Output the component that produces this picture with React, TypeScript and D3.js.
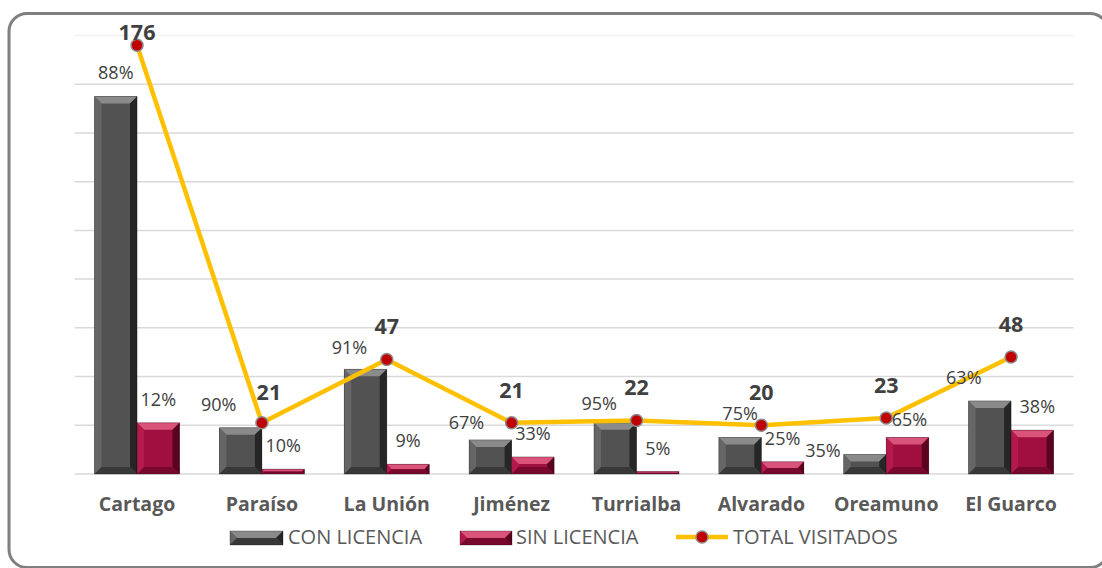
import React from "react";
import * as d3 from "d3";

const categories = ["Cartago", "Paraíso", "La Unión", "Jiménez", "Turrialba", "Alvarado", "Oreamuno", "El Guarco"];
const conLicencia = [155, 19, 43, 14, 21, 15, 8, 30];
const sinLicencia = [21, 2, 4, 7, 1, 5, 15, 18];
const totalVisitados = [176, 21, 47, 21, 22, 20, 23, 48];
const conPct = ["88%", "90%", "91%", "67%", "95%", "75%", "35%", "63%"];
const sinPct = ["12%", "10%", "9%", "33%", "5%", "25%", "65%", "38%"];
const yTicks = [0, 20, 40, 60, 80, 100, 120, 140, 160, 180];

// label placement offsets (dx, dy) relative to default anchor
const conLabelOff = [[0, 0], [-22, 0], [-16, 2], [-24, 6], [-16, 4], [0, 0], [-42, 19], [-26, 0]];
const sinLabelOff = [[0, 0], [0, 0], [0, 0], [0, 0], [0, 0], [0, 0], [2, 6], [5, 0]];
const totalLabelOff = [[0, 20], [7, 2], [0, -1], [0, 0], [0, 0], [0, 0], [0, 0], [0, 0]];

const W = 1102;
const H = 568;
const plot = { left: 74.6, right: 1073.5, top: 35.5, bottom: 474 };

const CON = { face: "#525252", top: "#8a8a8a", left: "#666666", right: "#262626", bottom: "#383838" };
const SIN = { face: "#a10f40", top: "#d9537a", left: "#b41a4c", right: "#5a031e", bottom: "#78082d" };

function BevelBar({ x, y, w, h, c }: { x: number; y: number; w: number; h: number; c: typeof CON }) {
  if (h <= 0) return null;
  const b = Math.min(7, h / 2, w / 2);
  const x2 = x + w, y2 = y + h;
  const p = (pts: number[][]) => pts.map((q) => q.join(",")).join(" ");
  return (
    <g>
      <rect x={x} y={y} width={w} height={h} fill={c.face} />
      <polygon points={p([[x, y], [x2, y], [x2 - b, y + b], [x + b, y + b]])} fill={c.top} />
      <polygon points={p([[x, y], [x + b, y + b], [x + b, y2 - b], [x, y2]])} fill={c.left} />
      <polygon points={p([[x2, y], [x2, y2], [x2 - b, y2 - b], [x2 - b, y + b]])} fill={c.right} />
      <polygon points={p([[x, y2], [x + b, y2 - b], [x2 - b, y2 - b], [x2, y2]])} fill={c.bottom} />
      <rect x={x} y={y} width={w} height={h} fill="none" stroke="rgba(0,0,0,0.35)" strokeWidth={0.8} />
    </g>
  );
}

export default function App() {
  const x0 = d3.scaleBand<string>().domain(categories).range([plot.left, plot.right]).padding(0);
  const bw = x0.bandwidth();
  const x1 = d3.scaleBand<string>().domain(["con", "sin"]).range([(bw - 85) / 2, (bw + 85) / 2]).padding(0);
  const y = d3.scaleLinear().domain([0, 180]).range([plot.bottom, plot.top]);
  const cx = (i: number) => (x0(categories[i]) as number) + bw / 2;
  const line = d3.line<number>().x((_, i) => cx(i)).y((d) => y(d));
  const font = "'Open Sans', 'Noto Sans', sans-serif";
  const textCol = "#404040";

  return (
    <svg width={W} height={H} style={{ position: "absolute", left: 0, top: 0, background: "#fff" }} fontFamily={font}>
      <rect x={9} y={13.5} width={1099} height={554} rx={18} fill="#fff" stroke="#7f7f7f" strokeWidth={3} />
      {yTicks.map((t) => (
        <line key={t} x1={plot.left} x2={plot.right} y1={y(t)} y2={y(t)} stroke={t === 180 ? "#f2f2f2" : "#d9d9d9"} strokeWidth={1.5} />
      ))}
      {categories.map((c, i) => {
        const bx = x0(c) as number;
        const xc = bx + (x1("con") as number);
        const xs = bx + (x1("sin") as number);
        const bwi = x1.bandwidth();
        return (
          <g key={c}>
            <BevelBar x={xc} y={y(conLicencia[i])} w={bwi} h={y(0) - y(conLicencia[i])} c={CON} />
            <BevelBar x={xs} y={y(sinLicencia[i])} w={bwi} h={y(0) - y(sinLicencia[i])} c={SIN} />
          </g>
        );
      })}
      <path d={line(totalVisitados) as string} fill="none" stroke="#ffc000" strokeWidth={4.5} strokeLinejoin="round" />
      {totalVisitados.map((v, i) => (
        <circle key={i} cx={cx(i)} cy={y(v)} r={6} fill="#c00000" stroke="#8c8c8c" strokeWidth={1.5} />
      ))}
      {categories.map((c, i) => {
        const bx = x0(c) as number;
        const bwi = x1.bandwidth();
        const xc = bx + (x1("con") as number) + bwi / 2;
        const xs = bx + (x1("sin") as number) + bwi / 2;
        return (
          <g key={"l" + c} fontSize={18} fill={textCol} textAnchor="middle">
            <text x={xc + conLabelOff[i][0]} y={y(conLicencia[i]) - 17 + conLabelOff[i][1]}>{conPct[i]}</text>
            <text x={xs + sinLabelOff[i][0]} y={y(sinLicencia[i]) - 17 + sinLabelOff[i][1]}>{sinPct[i]}</text>
          </g>
        );
      })}
      {totalVisitados.map((v, i) => (
        <text key={"t" + i} x={cx(i) + totalLabelOff[i][0]} y={y(v) - 25 + totalLabelOff[i][1]} fontSize={21.5} fontWeight={700} fill={textCol} textAnchor="middle">
          {v}
        </text>
      ))}
      {categories.map((c, i) => (
        <text key={"c" + c} x={cx(i)} y={511} fontSize={19.5} fontWeight={700} fill="#595959" textAnchor="middle">
          {c}
        </text>
      ))}
      <g fontSize={20} fill="#595959">
        <BevelBar x={230} y={531} w={53} h={14} c={CON} />
        <text x={288} y={544}>CON LICENCIA</text>
        <BevelBar x={460} y={531} w={52} h={14} c={SIN} />
        <text x={516} y={544}>SIN LICENCIA</text>
        <line x1={676} x2={728} y1={537} y2={537} stroke="#ffc000" strokeWidth={4.5} />
        <circle cx={702} cy={537} r={6} fill="#c00000" stroke="#8c8c8c" strokeWidth={1.5} />
        <text x={733} y={544}>TOTAL VISITADOS</text>
      </g>
    </svg>
  );
}
